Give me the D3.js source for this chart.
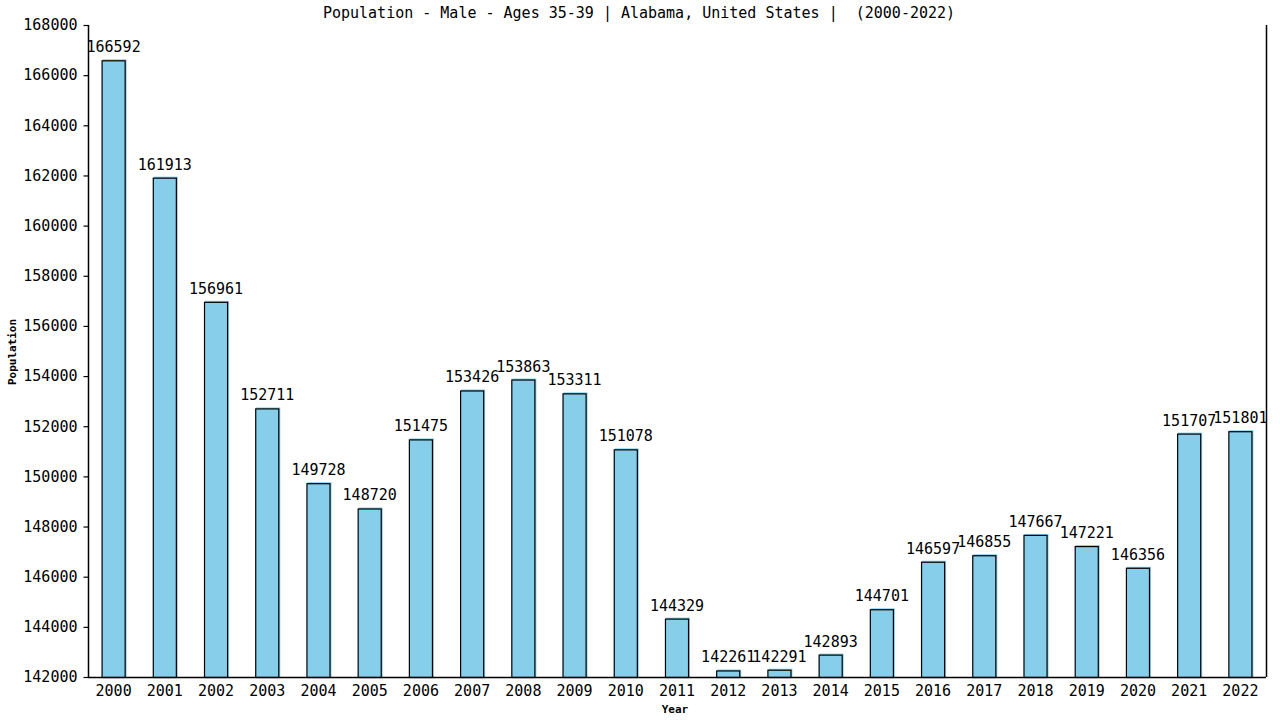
<html lang="en"><head>
<meta http-equiv="Content-Type" content="text/html; charset=UTF-8">
<title>Population chart</title>
<script type="text/javascript" src="https://cdn.jsdelivr.net/npm/d3@7"></script>
<style type="text/css">
body { margin: 0; background: #fff; }
text { font-family: "DejaVu Sans Mono", monospace; }
</style>
</head>
<body>
<script type="text/javascript">

var width = 1280;
var height = 720;

// data
var years = ["2000","2001","2002","2003","2004","2005","2006","2007","2008","2009","2010","2011",
             "2012","2013","2014","2015","2016","2017","2018","2019","2020","2021","2022"];
var population = [166592,161913,156961,152711,149728,148720,151475,153426,153863,153311,151078,144329,
                  142261,142291,142893,144701,146597,146855,147667,147221,146356,151707,151801];
var yTicks = [142000,144000,146000,148000,150000,152000,154000,156000,158000,160000,162000,164000,166000,168000];

var margin = {left: 88, right: 14, top: 25, bottom: 43};

var svg = d3.select("body").append("svg")
            .attr("width", width)
            .attr("height", height);

var x = d3.scaleBand()
          .domain(years)
          .range([margin.left, width - margin.right])
          .paddingInner(0.53)
          .paddingOuter(0.265);

var y = d3.scaleLinear()
          .domain([142000, 168000])
          .range([height - margin.bottom, margin.top]);

// title (keeps the double space)
svg.append("text")
   .attr("x", 639)
   .attr("y", 18)
   .attr("text-anchor", "middle")
   .attr("font-size", 15)
   .attr("fill", "black")
   .style("white-space", "pre")
   .text("Population - Male - Ages 35-39 | Alabama, United States |  (2000-2022)");

// bars: blue fill with a 1px offset, then black outline
svg.selectAll(".barfill")
   .data(population).enter()
   .append("rect")
   .attr("class", "barfill")
   .attr("x", (d, i) => x(years[i]) + 1)
   .attr("y", (d) => y(d) - 1)
   .attr("width", x.bandwidth())
   .attr("height", (d) => y(142000) - y(d) + 1)
   .attr("fill", "#87ceeb");

svg.selectAll(".bar")
   .data(population).enter()
   .append("rect")
   .attr("class", "bar")
   .attr("x", (d, i) => x(years[i]) + 0.5)
   .attr("y", (d) => y(d) + 0.5)
   .attr("width", x.bandwidth() - 1)
   .attr("height", (d) => y(142000) - y(d))
   .attr("fill", "#87ceeb")
   .attr("stroke", "black")
   .attr("stroke-width", 1.2);

// value labels
svg.selectAll(".vlabel")
   .data(population).enter()
   .append("text")
   .attr("class", "vlabel")
   .attr("x", (d, i) => x(years[i]) + x.bandwidth() / 2)
   .attr("y", (d) => y(d) - 8)
   .attr("text-anchor", "middle")
   .attr("font-size", 15)
   .attr("fill", "black")
   .text((d) => d);

// y axis
var yAxis = d3.axisLeft(y).tickValues(yTicks).tickSize(5).tickPadding(6).tickFormat(d3.format("d"));
var gy = svg.append("g")
   .attr("transform", `translate(${margin.left + 0.5},0)`)
   .call(yAxis);
gy.select(".domain").attr("d", `M0,${margin.top}V${height - margin.bottom + 0.5}`).attr("stroke-width", 1.5);
gy.selectAll(".tick line").attr("stroke-width", 1.2);
gy.selectAll("text").attr("font-size", 15).attr("font-family", "DejaVu Sans Mono, monospace").attr("fill", "black");

// x axis
var xAxis = d3.axisBottom(x).tickSize(0).tickPadding(8);
var gx = svg.append("g")
   .attr("transform", `translate(0,${height - margin.bottom + 0.5})`)
   .call(xAxis);
gx.select(".domain").attr("d", `M${margin.left},0H${width - margin.right}`).attr("stroke-width", 1.5);
gx.selectAll("text").attr("font-size", 15).attr("font-family", "DejaVu Sans Mono, monospace").attr("fill", "black");

// right border line
svg.append("line")
   .attr("x1", width - margin.right + 0.5)
   .attr("x2", width - margin.right + 0.5)
   .attr("y1", margin.top)
   .attr("y2", height - margin.bottom)
   .attr("stroke", "black")
   .attr("stroke-width", 1.5);

// axis titles
svg.append("text")
   .attr("x", 675)
   .attr("y", 713)
   .attr("text-anchor", "middle")
   .attr("font-size", 11)
   .attr("font-weight", "bold")
   .text("Year");

svg.append("text")
   .attr("transform", "translate(16,352) rotate(-90)")
   .attr("text-anchor", "middle")
   .attr("font-size", 11)
   .attr("font-weight", "bold")
   .text("Population");

</script>
</body></html>
